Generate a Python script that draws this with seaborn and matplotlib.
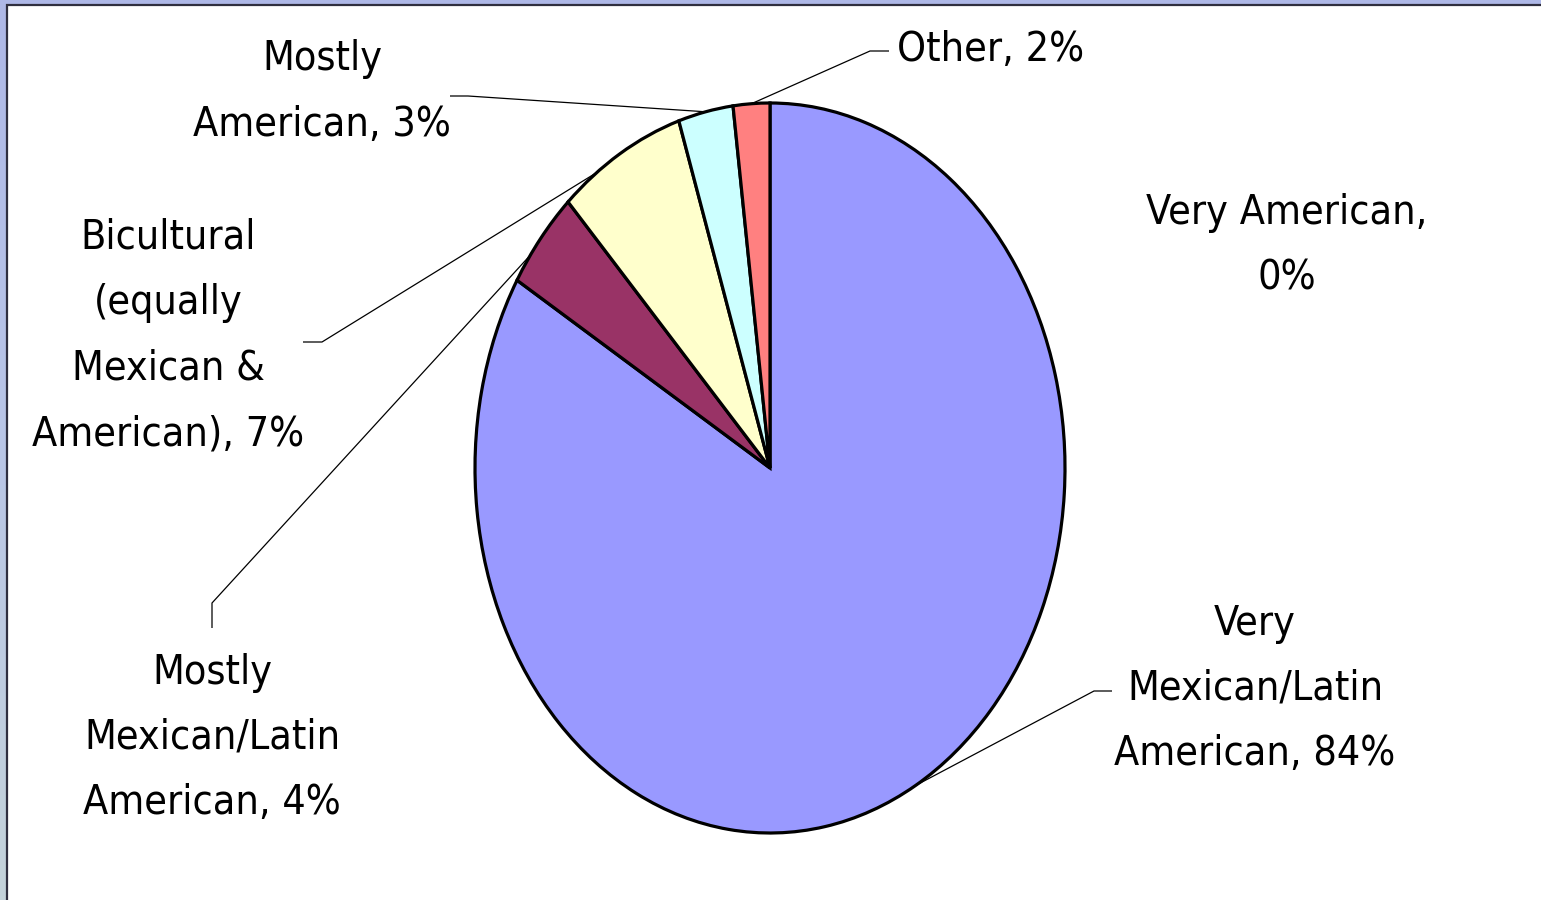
import numpy as np
import matplotlib
matplotlib.use("Agg")
import matplotlib.pyplot as plt
from matplotlib import font_manager as fm
from matplotlib.patches import Rectangle
import seaborn as sns

# ── Data ───────────────────────────────────────────────────────────────────
CATEGORIES = ["Very American", "Very\nMexican/Latin\nAmerican",
              "Mostly\nMexican/Latin\nAmerican",
              "Bicultural\n(equally\nMexican &\nAmerican)",
              "Mostly\nAmerican", "Other"]
SHARES = [0.0, 83.6, 4.4, 7.0, 3.0, 2.0]
COLORS = ["#3366CC", "#9999FF", "#993366", "#FFFFCC", "#CCFFFF", "#FF8080"]

# ── Style ──────────────────────────────────────────────────────────────────
sns.set_theme(style="white")

# narrow font if there is one, else plain Arial-metric font a bit smaller
fonts = fm.fontManager.ttflist
names = {f.name for f in fonts}
cond = [f for f in fonts if "DejaVu Sans" in f.name and "Mono" not in f.name
        and (f.stretch == "condensed" or "Condensed" in f.name)]
if "Liberation Sans Narrow" in names:
    FONT = dict(family=["Liberation Sans Narrow", "DejaVu Sans"], size=34,
                stretch="normal")
    LSP = 1.45
elif cond:
    FONT = dict(family=[cond[0].name, "DejaVu Sans"], size=29.5,
                stretch="condensed")
    LSP = 1.82
else:
    FONT = dict(family=["Liberation Sans", "DejaVu Sans"], size=29,
                stretch="normal")
    LSP = 1.75
plt.rcParams["font.family"] = FONT["family"]

W, H = 1541, 900
CX, CY, RX, RY = 770, 468, 295, 365      # pie centre / radii in pixels


def px2data(px, py):
    return (px - CX) / RX, (CY - py) / RY


fig = plt.figure(figsize=(W / 100, H / 100), dpi=100)

# slide background: gradient strip + white chart area
bg = fig.add_axes([0, 0, 1, 1])
grad = np.linspace(0, 1, 256)[:, None]
cmap = matplotlib.colors.LinearSegmentedColormap.from_list(
    "bg", ["#AEB8E7", "#B9C6E6", "#C4D3DA"])
bg.imshow(grad, aspect="auto", cmap=cmap, extent=[0, 1, 0, 1])
bg.set_axis_off()
fig.patches.append(Rectangle((7 / W, -0.1), 1.2, (H - 5) / H + 0.1,
                             transform=fig.transFigure, facecolor="white",
                             edgecolor="#2F2F3F", linewidth=1.6, zorder=1))

ax = fig.add_axes([0, 0, 1, 1], zorder=2)
ax.patch.set_alpha(0)
wedges, _ = ax.pie(SHARES, colors=COLORS, startangle=90, counterclock=False,
                   radius=1.0,
                   wedgeprops=dict(edgecolor="black", linewidth=2.3))
ax.set_aspect("auto")
ax.set_xlim(-CX / RX, (W - CX) / RX)
ax.set_ylim(-(H - CY) / RY, CY / RY)
ax.set_axis_off()

# ── Labels + leader lines ─────────────────────────────────────────────────
# (text centre px, ha, leader elbow px, leader end px, anchor fraction in wedge)
LABELS = [
    ((1287, 246), "center", None, None, 0.5),
    ((1255, 689), "center", (1094, 691), (1112, 691), 0.5),
    ((212, 738), "center", (212, 603), (212, 628), 0.3),
    ((168, 336), "center", (322, 342), (303, 342), 0.29),
    ((322, 92), "center", (468, 96), (450, 96), 0.5),
    ((897, 50), "left", (870, 51), (889, 51), 0.5),
]

cum = np.concatenate([[0], np.cumsum(SHARES)])
for i, (cat, share) in enumerate(zip(CATEGORIES, SHARES)):
    (tx, ty), ha, elbow, end, frac = LABELS[i]
    text = f"{cat}, {share:.0f}%" if i != 0 else f"{cat},\n{share:.0f}%"
    x, y = px2data(tx, ty)
    ax.text(x, y, text, ha=ha, va="center", fontsize=FONT["size"],
            fontstretch=FONT["stretch"], linespacing=LSP,
            color="black", zorder=5)
    if elbow is not None:
        ang = np.deg2rad(90 - 360 * (cum[i] + frac * share) / 100)
        ax_, ay_ = np.cos(ang), np.sin(ang)
        ex, ey = px2data(*elbow)
        fx, fy = px2data(*end)
        ax.plot([ax_, ex, fx], [ay_, ey, fy], color="black", lw=0.9,
                zorder=4, solid_capstyle="butt")

fig.savefig("out.png", dpi=100)
